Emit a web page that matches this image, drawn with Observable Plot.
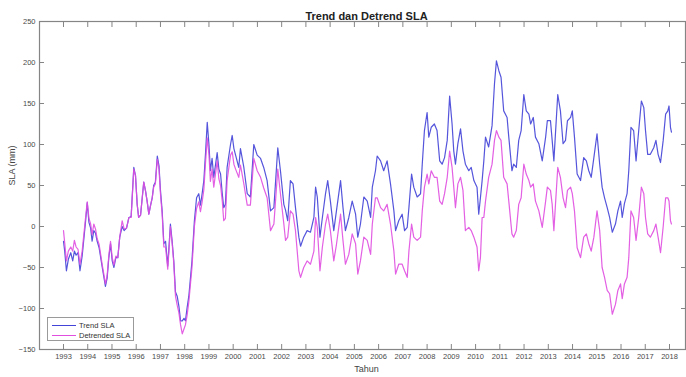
<!DOCTYPE html>
<html><head><meta charset="utf-8">
<script src="https://cdn.jsdelivr.net/npm/d3@7"></script>
<script src="https://cdn.jsdelivr.net/npm/@observablehq/plot@0.6"></script>
<style>
body{margin:0;background:#fff;}
#wrap{position:relative;width:686px;height:377px;font-family:"Liberation Sans",Arial,Helvetica,sans-serif;}
#legend{position:absolute;left:47px;top:317px;width:87px;height:24px;border:1px solid #9a9a9a;background:#fff;font-size:7.5px;color:#333;box-sizing:border-box;padding-top:2px;}
#legend .row{display:flex;align-items:center;height:10px;}
#legend .sw{width:24px;height:0;margin-left:4px;margin-right:3px;}
</style>
</head><body>
<div id="wrap"><div id="legend"></div></div>
<script>
const years = [1993.00,1993.05,1993.12,1993.20,1993.30,1993.38,1993.45,1993.52,1993.60,1993.68,1993.77,1993.90,1993.98,
1994.05,1994.12,1994.18,1994.25,1994.32,1994.39,1994.47,1994.60,1994.73,1994.80,1994.87,1994.94,
1995.01,1995.08,1995.16,1995.24,1995.32,1995.42,1995.50,1995.60,1995.70,1995.79,1995.90,1995.97,
1996.04,1996.10,1996.18,1996.31,1996.38,1996.45,1996.52,1996.60,1996.66,1996.72,1996.79,1996.87,1996.94,
1997.00,1997.07,1997.14,1997.21,1997.30,1997.35,1997.41,1997.48,1997.55,1997.62,1997.69,1997.76,1997.83,1997.90,1997.97,
1998.03,1998.10,1998.17,1998.30,1998.40,1998.49,1998.58,1998.65,1998.72,1998.79,1998.86,1998.93,
1999.00,1999.06,1999.13,1999.20,1999.34,1999.41,1999.48,1999.55,1999.61,1999.68,1999.75,1999.89,1999.96,
2000.03,2000.10,2000.23,2000.30,2000.44,2000.58,2000.71,2000.85,2000.99,
2001.13,2001.26,2001.40,2001.54,2001.68,2001.84,2001.95,
2002.09,2002.16,2002.25,2002.36,2002.47,2002.57,2002.71,2002.78,2002.91,
2003.05,2003.19,2003.33,2003.40,2003.47,2003.58,2003.68,2003.81,2003.90,
2004.01,2004.15,2004.26,2004.43,2004.53,2004.63,2004.77,2004.91,
2005.05,2005.14,2005.25,2005.39,2005.53,2005.67,2005.74,2005.87,2005.94,
2006.08,2006.21,2006.35,2006.49,2006.63,2006.70,2006.83,2006.97,
2007.07,2007.18,2007.25,2007.36,2007.45,2007.59,2007.73,2007.80,2007.89,
2008.00,2008.07,2008.17,2008.30,2008.41,2008.52,2008.62,2008.72,2008.83,2008.93,
2009.03,2009.10,2009.17,2009.27,2009.38,2009.48,2009.58,2009.72,2009.82,2009.93,
2010.06,2010.13,2010.20,2010.27,2010.34,2010.41,2010.54,2010.68,2010.78,2010.86,2010.96,
2011.05,2011.16,2011.30,2011.37,2011.50,2011.57,2011.68,2011.78,2011.88,2011.99,
2012.09,2012.20,2012.27,2012.38,2012.47,2012.61,2012.75,2012.89,2012.96,
2013.09,2013.16,2013.23,2013.39,2013.50,2013.61,2013.71,2013.79,2013.92,2013.99,
2014.08,2014.19,2014.33,2014.46,2014.57,2014.67,2014.77,2014.88,
2015.01,2015.12,2015.22,2015.32,2015.43,2015.53,2015.64,2015.77,2015.87,2015.98,
2016.05,2016.14,2016.25,2016.32,2016.41,2016.52,2016.62,2016.73,2016.84,2016.94,
2017.01,2017.10,2017.21,2017.35,2017.44,2017.53,2017.63,2017.74,2017.84,2017.93,2017.98,
2018.04,2018.08];

const trendSLA = [-18,-30,-54,-40,-32,-42,-30,-35,-32,-54,-36,3,29,
5,-2,-18,-5,-8,-18,-26,-50,-73,-63,-38,-21,
-42,-50,-38,-38,-13,0,-5,-2,11,12,72,62,
27,11,14,54,44,31,15,27,35,50,54,86,74,
44,19,-21,-18,-48,-26,3,-17,-42,-80,-85,-97,-115,-115,-112,
-115,-99,-85,-42,7,35,40,26,40,56,90,127,
100,68,83,60,90,70,64,40,23,27,72,100,111,
95,87,72,95,72,40,36,100,87,
83,72,56,19,23,96,68,
27,20,7,56,52,23,-13,-24,-13,
-5,-7,11,48,36,-13,11,40,56,
31,-5,19,56,23,-5,11,31,
15,-13,3,36,31,11,48,68,86,
80,68,80,52,19,-5,7,15,
-5,-1,23,64,48,36,40,76,117,
139,109,121,125,117,80,76,84,105,159,
125,92,76,101,119,92,76,68,72,56,
48,15,35,56,80,109,97,123,174,202,190,
182,141,133,109,68,76,72,105,117,161,
141,137,125,133,109,101,80,109,129,
129,105,80,161,141,101,105,129,133,141,
109,64,56,84,80,68,60,84,
113,76,48,35,23,11,-7,3,19,31,
11,28,40,68,121,117,80,117,153,145,
117,88,88,96,105,88,78,105,137,141,147,
121,115];

const detrendedSLA = [-5,-20,-42,-30,-25,-30,-17,-25,-28,-46,-30,8,30,
10,3,-10,3,-3,-15,-22,-47,-70,-60,-35,-18,
-38,-47,-36,-38,-13,7,-3,-2,11,11,70,62,
27,11,14,54,44,31,15,27,35,48,52,82,70,
40,15,-25,-25,-52,-30,0,-20,-45,-85,-96,-105,-120,-131,-125,
-120,-108,-92,-50,0,22,30,18,30,45,78,108,
88,55,70,48,80,58,50,31,7,10,56,87,91,
76,70,60,75,52,26,26,83,68,
60,47,35,-5,3,70,40,
3,-17,-13,19,15,-5,-54,-62,-50,
-42,-46,-30,11,-1,-54,-25,3,15,
-5,-42,-22,15,-17,-46,-34,-9,
-21,-58,-42,-13,-17,-34,3,35,35,
23,19,27,3,-30,-58,-46,-46,
-54,-62,-30,3,-13,-17,-13,19,48,
64,52,68,60,60,31,27,40,60,92,
72,48,23,52,60,44,-5,-1,-5,-13,
-25,-54,-38,11,11,31,60,76,105,117,109,
105,60,52,31,-9,-13,-5,27,35,76,
64,56,48,52,31,19,-1,31,48,
44,27,-5,72,60,35,23,44,48,40,
19,-26,-38,-13,-9,-21,-30,-13,
19,-5,-50,-62,-78,-82,-107,-95,-78,-70,
-88,-70,-62,-38,19,11,-17,11,48,40,
11,-9,-13,-5,3,-13,-32,0,35,35,31,
7,3];

const xTicks = [1993,1994,1995,1996,1997,1998,1999,2000,2001,2002,2003,2004,2005,2006,2007,2008,2009,2010,2011,2012,2013,2014,2015,2016,2017,2018];
const yTicks = [-150,-100,-50,0,50,100,150,200,250];
const seriesNames = ["Trend SLA","Detrended SLA"];
const seriesColors = ["#4343d8","#e04ee0"];

const trendData = years.map((t,i)=>({t, v: trendSLA[i]}));
const detData = years.map((t,i)=>({t, v: detrendedSLA[i]}));

const axisColor = "#858585";
const font = "'Liberation Sans',Arial,Helvetica,sans-serif";

const chart = Plot.plot({
  width: 686, height: 377,
  marginLeft: 39, marginRight: 1, marginTop: 21, marginBottom: 28,
  style: {fontFamily: font, background: "#fff", color: "#4a4a4a"},
  x: {domain: [1992.01, 2018.66], label: null},
  y: {domain: [-150, 250], label: null},
  marks: [
    Plot.axisY({ticks: yTicks, tickSize: 0, tickPadding: 4, fontSize: 7.5, label: null, stroke: axisColor}),
    Plot.axisY({ticks: yTicks, tickSize: -5, tickFormat: () => "", label: null, stroke: axisColor}),
    Plot.axisY({anchor: "right", ticks: yTicks, tickSize: -5, tickFormat: () => "", label: null, stroke: axisColor}),
    Plot.axisX({ticks: xTicks, tickSize: 0, tickPadding: 4, fontSize: 7.5, tickFormat: d => String(d), label: null}),
    Plot.axisX({ticks: xTicks, tickSize: -5, tickFormat: () => "", label: null, stroke: axisColor}),
    Plot.axisX({anchor: "top", ticks: xTicks, tickSize: -5, tickFormat: () => "", label: null, stroke: axisColor}),
    Plot.frame({stroke: axisColor, strokeWidth: 1.2}),
    Plot.line(trendData, {x: "t", y: "v", stroke: seriesColors[0], strokeWidth: 1.2, strokeOpacity: 0.9}),
    Plot.line(detData, {x: "t", y: "v", stroke: seriesColors[1], strokeWidth: 1.2, strokeOpacity: 0.9}),
    Plot.text(["Trend dan Detrend SLA"], {text: d => d, frameAnchor: "top", dy: -9.5, dx: 4, fontSize: 11, fontWeight: "bold", fill: "#222"}),
    Plot.text(["Tahun"], {text: d => d, frameAnchor: "bottom", dy: 22, dx: 4, fontSize: 9, fill: "#444"}),
    Plot.text(["SLA (mm)"], {text: d => d, frameAnchor: "left", dx: -27, rotate: -90, fontSize: 9, fill: "#444"})
  ]
});
const wrap = document.getElementById("wrap");
wrap.insertBefore(chart, wrap.firstChild);

const legend = document.getElementById("legend");
seriesNames.forEach((name, i) => {
  const row = document.createElement("div");
  row.className = "row";
  const sw = document.createElement("span");
  sw.className = "sw";
  sw.style.borderTop = "1px solid " + seriesColors[i];
  const tx = document.createElement("span");
  tx.textContent = name;
  row.appendChild(sw); row.appendChild(tx);
  legend.appendChild(row);
});
</script>
</body></html>
